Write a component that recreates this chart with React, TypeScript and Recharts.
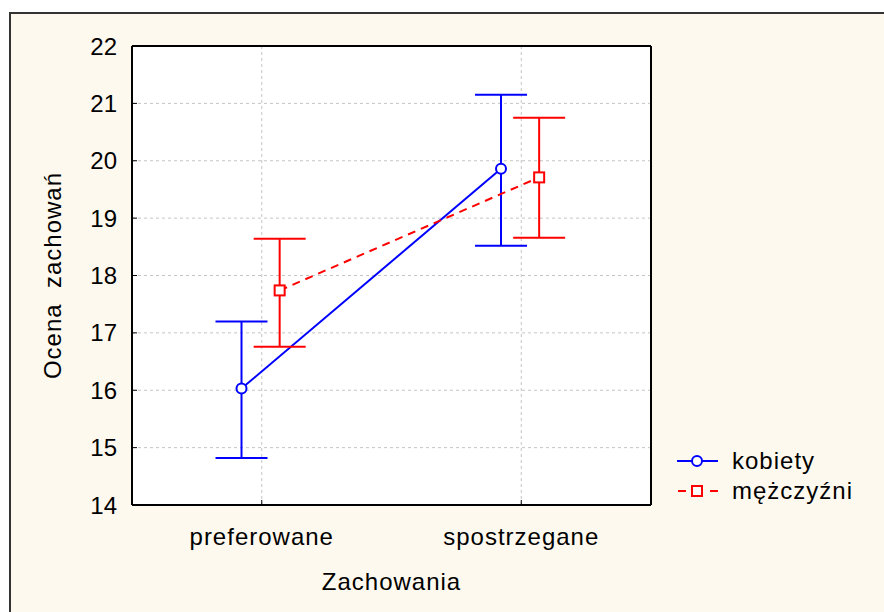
import React from "react"
import { LineChart, Line, XAxis, YAxis, CartesianGrid, ErrorBar, Legend, Label } from "recharts"

const categories = ["preferowane", "spostrzegane"]
const yTicks = [14, 15, 16, 17, 18, 19, 20, 21, 22]

const kobietyMean = [16.03, 19.86]
const kobietyLow = [14.82, 18.52]
const kobietyHigh = [17.2, 21.15]

const mezczyzniMean = [17.74, 19.71]
const mezczyzniLow = [16.76, 18.66]
const mezczyzniHigh = [18.64, 20.75]

const BLUE = "#0000FF"
const RED = "#FF0000"
const FONT = "'Liberation Sans', Arial, sans-serif"

// horizontal shift of each series inside its category band (fraction of band)
const BLUE_SHIFT = -0.078
const RED_SHIFT = 0.069

const toRows = (mean: number[], low: number[], high: number[], shift: number) =>
  categories.map((name, i) => ({
    name,
    x: i + 0.5 + shift,
    y: mean[i],
    err: [mean[i] - low[i], high[i] - mean[i]],
  }))

const kobietyData = toRows(kobietyMean, kobietyLow, kobietyHigh, BLUE_SHIFT)
const mezczyzniData = toRows(mezczyzniMean, mezczyzniLow, mezczyzniHigh, RED_SHIFT)

const tickStyle = { fill: "#000", fontSize: 24, fontFamily: FONT }

const SquareDot = (props: any) => {
  const { cx, cy } = props
  if (cx == null || cy == null) return null
  return <rect x={cx - 5} y={cy - 5} width={10} height={10} fill="#fff" stroke={RED} strokeWidth={2} />
}

const LegendContent = () => (
  <div style={{ fontFamily: FONT, fontSize: 24, letterSpacing: 1, color: "#000" }}>
    <div style={{ display: "flex", alignItems: "center", height: 30 }}>
      <svg width={56} height={20}>
        <line x1={1} y1={10} x2={42} y2={10} stroke={BLUE} strokeWidth={2} />
        <circle cx={21} cy={10} r={5} fill="#fff" stroke={BLUE} strokeWidth={2} />
      </svg>
      <span>kobiety</span>
    </div>
    <div style={{ display: "flex", alignItems: "center", height: 30 }}>
      <svg width={56} height={20}>
        <line x1={1} y1={10} x2={42} y2={10} stroke={RED} strokeWidth={2} strokeDasharray="8 8" strokeDashoffset={-1} />
        <rect x={16} y={5} width={10} height={10} fill="#fff" stroke={RED} strokeWidth={2} />
      </svg>
      <span>mężczyźni</span>
    </div>
  </div>
)

export default function App() {
  return (
    <div style={{ position: "absolute", left: 0, top: 0, width: 884, height: 612, background: "#fff", overflow: "hidden" }}>
      <div
        style={{
          position: "absolute",
          left: 9,
          top: 12,
          width: 900,
          height: 620,
          background: "#FEF9EE",
          borderLeft: "2px solid #333",
          borderTop: "2px solid #333",
        }}
      />
      <div style={{ position: "absolute", left: 0, top: 0 }}>
        <LineChart width={884} height={612} margin={{ top: 46, right: 233, bottom: 12, left: 32 }}>
          <CartesianGrid stroke="#c4c4c4" strokeDasharray="3 3" fill="#fff" fillOpacity={1} />
          <XAxis
            dataKey="x"
            type="number"
            domain={[0, 2]}
            ticks={[0.5, 1.5]}
            tickFormatter={(v: number) => categories[Math.floor(v)]}
            height={95}
            tick={{ ...tickStyle, letterSpacing: 1 }}
            tickSize={-5}
            tickMargin={28}
            axisLine={{ stroke: "#000", strokeWidth: 2 }}
            tickLine={{ stroke: "#000" }}
            allowDuplicatedCategory={false}
          >
            <Label
              value="Zachowania"
              position="insideBottom"
              offset={10}
              style={{ fill: "#000", fontSize: 24, fontFamily: FONT, letterSpacing: 1 }}
            />
          </XAxis>
          <XAxis
            xAxisId="top"
            orientation="top"
            type="number"
            domain={[0, 2]}
            ticks={[0.5, 1.5]}
            mirror
            tick={false}
            tickSize={5}
            axisLine={{ stroke: "#000", strokeWidth: 2 }}
            tickLine={{ stroke: "#000" }}
          />
          <YAxis
            type="number"
            domain={[14, 22]}
            ticks={yTicks}
            width={100}
            tick={tickStyle}
            tickSize={-5}
            tickMargin={20}
            axisLine={{ stroke: "#000", strokeWidth: 2 }}
            tickLine={{ stroke: "#000" }}
          >
            <Label
              content={(props: any) => {
                const vb = props.viewBox
                const cx = vb.x + 20
                const cy = vb.y + vb.height / 2
                return (
                  <text
                    x={cx}
                    y={cy}
                    transform={`rotate(-90, ${cx}, ${cy})`}
                    textAnchor="middle"
                    dominantBaseline="central"
                    style={{ fill: "#000", fontSize: 24, fontFamily: FONT, letterSpacing: 1, whiteSpace: "pre" }}
                  >
                    Ocena  zachowań
                  </text>
                )
              }}
            />
          </YAxis>
          <YAxis
            yAxisId="right"
            orientation="right"
            type="number"
            domain={[14, 22]}
            ticks={yTicks}
            mirror
            tick={false}
            tickSize={5}
            axisLine={{ stroke: "#000", strokeWidth: 2 }}
            tickLine={{ stroke: "#000" }}
          />
          <Legend
            content={<LegendContent />}
            layout="vertical"
            align="center"
            verticalAlign="middle"
            wrapperStyle={{ left: 676, top: 446, width: 200 }}
          />
          <Line
            data={kobietyData}
            dataKey="y"
            name="kobiety"
            type="linear"
            stroke={BLUE}
            strokeWidth={2}
            dot={{ r: 5, fill: "#fff", stroke: BLUE, strokeWidth: 2 }}
            activeDot={false}
            isAnimationActive={false}
          >
            <ErrorBar dataKey="err" direction="y" width={26} stroke={BLUE} strokeWidth={2} />
          </Line>
          <Line
            data={mezczyzniData}
            dataKey="y"
            name="mężczyźni"
            type="linear"
            stroke={RED}
            strokeWidth={2}
            strokeDasharray="8 6"
            dot={<SquareDot />}
            activeDot={false}
            isAnimationActive={false}
          >
            <ErrorBar dataKey="err" direction="y" width={26} stroke={RED} strokeWidth={2} />
          </Line>
        </LineChart>
      </div>
    </div>
  )
}
